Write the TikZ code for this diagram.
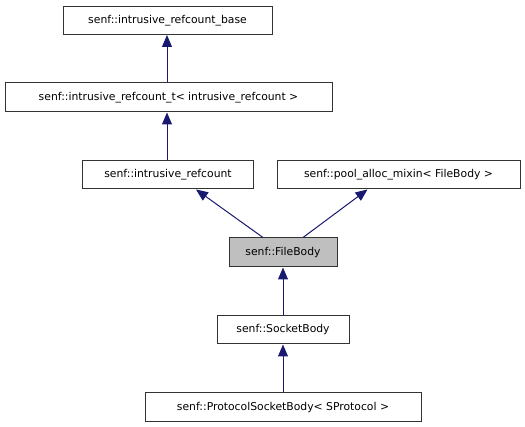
\documentclass[tikz,border=0pt]{standalone}
\usepackage{fontspec}
\setmainfont{DejaVu Sans}
\usetikzlibrary{arrows.meta}
\definecolor{edgeblue}{HTML}{191970}
\definecolor{hilite}{HTML}{BFBFBF}
\tikzset{
  cls/.style={draw=black!80, line width=1pt, fill=white, inner sep=0pt, font=\fontsize{10.8}{13}\selectfont},
  inh/.style={draw=edgeblue, line width=1pt, -{Triangle[length=12pt,width=10pt]}}
}
\begin{document}
\begin{tikzpicture}[x=1pt,y=-1pt]
\useasboundingbox (0,0) rectangle (525,427);
\node[cls, minimum width=209pt, minimum height=28pt] (n1) at (167.5,20.5) {senf::intrusive\_refcount\_base};
\node[cls, minimum width=327pt, minimum height=29pt] (n2) at (168.5,97.5) {senf::intrusive\_refcount\_t< intrusive\_refcount >};
\node[cls, minimum width=171pt, minimum height=28pt] (n3) at (168,175) {senf::intrusive\_refcount};
\node[cls, minimum width=243pt, minimum height=28pt] (n4) at (398.5,175) {senf::pool\_alloc\_mixin< FileBody >};
\node[cls, fill=hilite, minimum width=108pt, minimum height=29pt] (fb) at (283,252.5) {senf::FileBody};
\node[cls, minimum width=132pt, minimum height=28pt] (sb) at (283,330) {senf::SocketBody};
\node[cls, minimum width=276pt, minimum height=29pt] (psb) at (283,407.5) {senf::ProtocolSocketBody< SProtocol >};
\draw[inh] ([xshift=-1.5pt]n2.north) -- ([xshift=-0.5pt]n1.south);
\draw[inh] ([xshift=-1pt]n3.north) -- ([xshift=-1.5pt]n2.south);
\draw[inh] ([xshift=-20pt]fb.north) -- ([xshift=28pt]n3.south);
\draw[inh] ([xshift=20pt]fb.north) -- ([xshift=-31pt]n4.south);
\draw[inh] (sb.north) -- (fb.south);
\draw[inh] (psb.north) -- (sb.south);
\end{tikzpicture}
\end{document}
